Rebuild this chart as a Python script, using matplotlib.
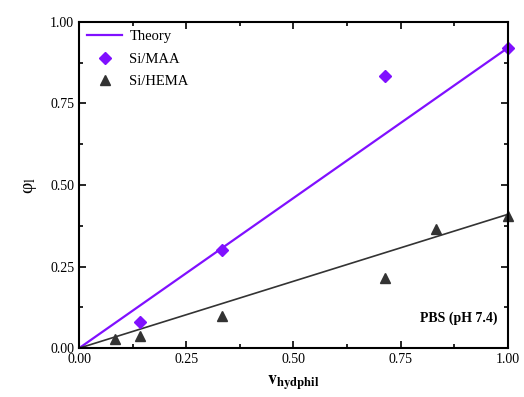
import numpy as np
import matplotlib.pyplot as plt
from matplotlib.ticker import MultipleLocator

plt.rcParams['font.family'] = ['Liberation Serif', 'DejaVu Serif']
plt.rcParams['mathtext.fontset'] = 'stix'

# data
maa_x = [0.143, 0.333, 0.714, 1.0]
maa_y = [0.08, 0.30, 0.835, 0.92]
hema_x = [0.083, 0.143, 0.333, 0.714, 0.833, 1.0]
hema_y = [0.028, 0.038, 0.10, 0.215, 0.365, 0.405]
theory_x = [0.0, 1.0]
theory_maa = [0.0, 0.92]
theory_hema = [0.0, 0.41]

purple = '#8010ff'
dark = '#333333'

fig = plt.figure(figsize=(5.24, 3.97), dpi=100)
ax = fig.add_axes([0.151, 0.123, 0.818, 0.822])

ax.plot(theory_x, theory_maa, color=purple, lw=1.6, label='Theory')
ax.plot(theory_x, theory_hema, color=dark, lw=1.2)
ax.plot(maa_x, maa_y, 'D', color=purple, ms=6, ls='none', label='Si/MAA', clip_on=False)
ax.plot(hema_x, hema_y, '^', color=dark, ms=7, ls='none', label='Si/HEMA', clip_on=False)

ax.set_xlim(0, 1)
ax.set_ylim(0, 1)
ax.xaxis.set_major_locator(MultipleLocator(0.25))
ax.yaxis.set_major_locator(MultipleLocator(0.25))
ax.xaxis.set_minor_locator(MultipleLocator(0.125))
ax.yaxis.set_minor_locator(MultipleLocator(0.125))
ax.xaxis.set_major_formatter(plt.FormatStrFormatter('%.2f'))
ax.yaxis.set_major_formatter(plt.FormatStrFormatter('%.2f'))
ax.tick_params(which='both', direction='in', top=True, right=True, labelsize=10, width=1.2)
ax.tick_params(which='major', length=5)
ax.tick_params(which='minor', length=3)
for s in ax.spines.values():
    s.set_linewidth(1.5)

ax.set_xlabel(r'$\mathbf{v}_{\mathbf{hydphil}}$', fontsize=13, labelpad=5)
ax.set_ylabel('φ$_\\mathrm{l}$', fontsize=14, labelpad=8)

ax.text(0.975, 0.07, 'PBS (pH 7.4)', transform=ax.transAxes, ha='right', va='bottom',
        fontsize=10, fontweight='bold')

ax.legend(loc='upper left', frameon=False, fontsize=10.5, handlelength=2.4,
          borderaxespad=0.15, labelspacing=0.65, handletextpad=0.5)

fig.savefig('out.png', dpi=100)
